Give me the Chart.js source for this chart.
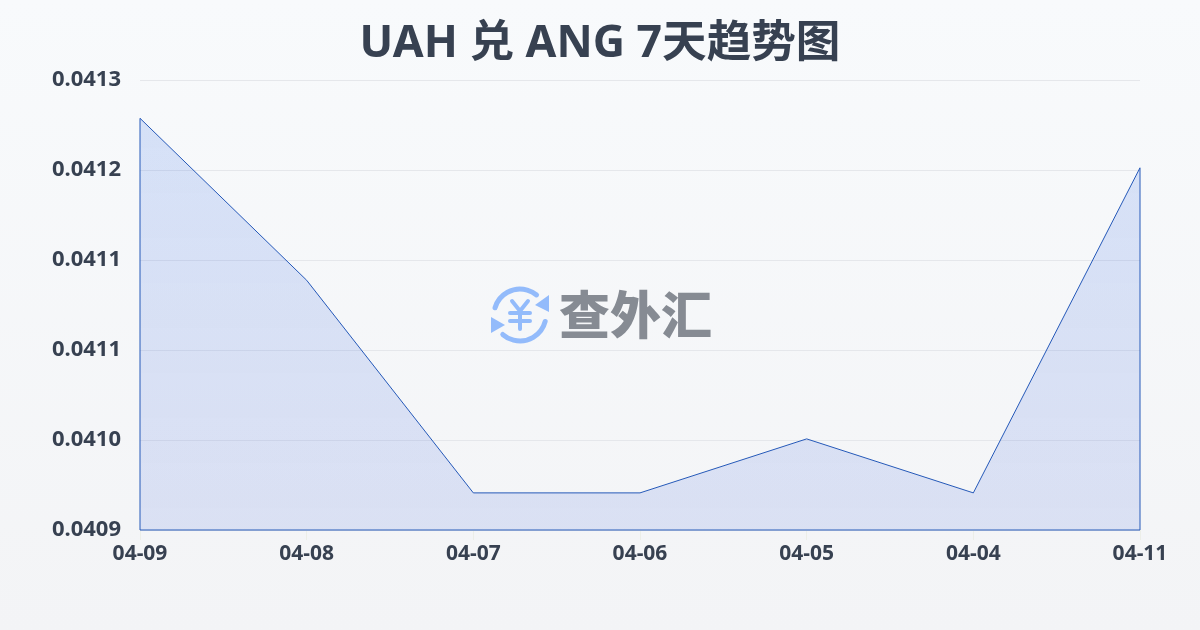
<!DOCTYPE html>
<html lang="zh-CN">
<head>
<meta charset="UTF-8">
<title>UAH 兑 ANG 7天趋势图</title>
<script src="https://cdn.jsdelivr.net/npm/chart.js"></script>
<style>
    html, body {
        margin: 0;
        padding: 0;
        width: 1200px;
        height: 630px;
        overflow: hidden;
        background: linear-gradient(180deg, #f8fafc 0%, #f3f4f6 100%);
    }
    #wrap { width: 1200px; height: 630px; position: relative; }
</style>
</head>
<body>
<div id="wrap"><canvas id="rateChart"></canvas></div>
<script>
const titleText = 'UAH 兑 ANG 7天趋势图';
const watermarkText = '查外汇';
const dates = ['04-09', '04-08', '04-07', '04-06', '04-05', '04-04', '04-11'];
const rates = [0.041266, 0.041122, 0.040933, 0.040933, 0.040981, 0.040933, 0.041222];
const yTicks = [0.0409, 0.04098, 0.04106, 0.04114, 0.04122, 0.0413];

const fontFamily = '"Noto Sans", "Noto Sans CJK SC", sans-serif';
const textColor = '#374151';
const lineColor = '#2458b8';

// closes the area outline down the sides and along the bottom
const outlinePlugin = {
    id: 'outline',
    afterDatasetsDraw(chart) {
        const x = chart.scales.x, y = chart.scales.y, ctx = chart.ctx;
        const last = rates.length - 1;
        ctx.save();
        ctx.strokeStyle = lineColor;
        ctx.lineWidth = 1;
        ctx.beginPath();
        ctx.moveTo(x.getPixelForValue(0), y.getPixelForValue(rates[0]));
        ctx.lineTo(x.getPixelForValue(0), y.bottom);
        ctx.lineTo(x.getPixelForValue(last), y.bottom);
        ctx.lineTo(x.getPixelForValue(last), y.getPixelForValue(rates[last]));
        ctx.stroke();
        ctx.restore();
    }
};

// watermark in the middle of the chart
const watermarkPlugin = {
    id: 'watermark',
    afterDraw(chart) {
        const ctx = chart.ctx;
        const cx = 520, cy = 315, r = 26;
        ctx.save();
        ctx.strokeStyle = '#93bbfb';
        ctx.fillStyle = '#93bbfb';
        ctx.lineWidth = 5;
        ctx.lineCap = 'round';
        ctx.beginPath();
        ctx.arc(cx, cy, r, Math.PI * 1.09, Math.PI * 1.72);
        ctx.stroke();
        ctx.beginPath();
        ctx.arc(cx, cy, r, Math.PI * 0.08, Math.PI * 0.73);
        ctx.stroke();
        ctx.beginPath();
        ctx.moveTo(cx + 29, cy - 20); ctx.lineTo(cx + 29, cy - 3); ctx.lineTo(cx + 15, cy - 10);
        ctx.closePath();
        ctx.fill();
        ctx.beginPath();
        ctx.moveTo(cx - 29, cy + 2); ctx.lineTo(cx - 29, cy + 18); ctx.lineTo(cx - 15, cy + 10);
        ctx.closePath();
        ctx.fill();
        ctx.lineWidth = 4;
        ctx.beginPath();
        ctx.moveTo(cx - 8, cy - 14); ctx.lineTo(cx, cy - 4); ctx.lineTo(cx + 8, cy - 14);
        ctx.moveTo(cx - 10, cy - 2); ctx.lineTo(cx + 10, cy - 2);
        ctx.moveTo(cx - 10, cy + 6); ctx.lineTo(cx + 10, cy + 6);
        ctx.moveTo(cx, cy - 4); ctx.lineTo(cx, cy + 14);
        ctx.stroke();
        ctx.fillStyle = '#868b93';
        ctx.font = '900 51px "Noto Sans CJK SC", sans-serif';
        ctx.textAlign = 'left';
        ctx.textBaseline = 'middle';
        ctx.fillText(watermarkText, 559, 315);
        ctx.restore();
    }
};

new Chart(document.getElementById('rateChart'), {
    type: 'line',
    data: {
        labels: dates,
        datasets: [{
            data: rates,
            borderColor: lineColor,
            borderWidth: 1,
            tension: 0,
            pointRadius: 0,
            fill: 'start',
            backgroundColor(context) {
                const area = context.chart.chartArea;
                if (!area) return 'rgba(37,99,235,0.15)';
                const g = context.chart.ctx.createLinearGradient(0, area.top, 0, area.bottom);
                g.addColorStop(0, 'rgba(37,99,235,0.16)');
                g.addColorStop(1, 'rgba(37,78,215,0.12)');
                return g;
            }
        }]
    },
    options: {
        responsive: true,
        maintainAspectRatio: false,
        animation: false,
        plugins: {
            legend: { display: false },
            tooltip: { enabled: false },
            title: {
                display: true,
                text: titleText,
                color: textColor,
                font: { family: fontFamily, size: 44.6, weight: '700' },
                padding: { top: 18, bottom: 8.5 }
            }
        },
        scales: {
            x: {
                grid: { drawOnChartArea: false, color: '#eceee8', tickLength: 10 },
                border: { display: false },
                ticks: {
                    color: textColor,
                    font: { family: fontFamily, size: 21, weight: '700' },
                    maxRotation: 0,
                    autoSkip: false,
                    padding: 1
                },
                afterFit(scale) { scale.height = 100; }
            },
            y: {
                min: 0.0409,
                max: 0.0413,
                afterBuildTicks(scale) { scale.ticks = yTicks.map(v => ({ value: v })); },
                grid: { color: '#e5e7eb', lineWidth: 1, drawTicks: false },
                border: { display: false },
                ticks: {
                    color: textColor,
                    font: { family: fontFamily, size: 22, weight: '700' },
                    padding: 19,
                    callback: v => v.toFixed(4)
                },
                afterFit(scale) { scale.width = 140; }
            },
            // empty right margin, keeps the title centred on the page
            margin: {
                position: 'right',
                grid: { display: false },
                border: { display: false },
                ticks: { display: false },
                afterFit(scale) { scale.width = 60; }
            }
        }
    },
    plugins: [outlinePlugin, watermarkPlugin]
});
</script>
</body>
</html>
